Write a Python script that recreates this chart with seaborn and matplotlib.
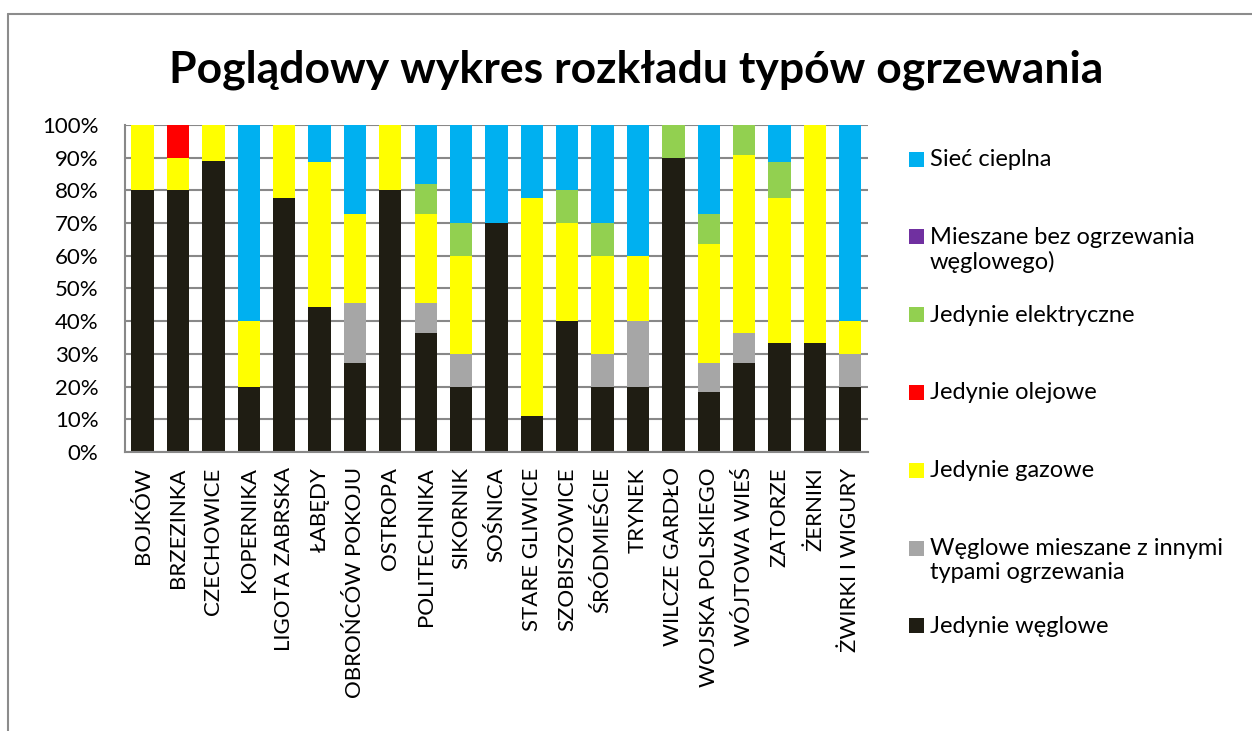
import numpy as np
import pandas as pd
import matplotlib
matplotlib.use("Agg")
import matplotlib.pyplot as plt
from matplotlib.patches import Rectangle
from matplotlib.lines import Line2D
import seaborn as sns

# District names (x axis)
districts = [
    "BOJKÓW", "BRZEZINKA", "CZECHOWICE", "KOPERNIKA", "LIGOTA ZABRSKA",
    "ŁABĘDY", "OBROŃCÓW POKOJU", "OSTROPA", "POLITECHNIKA", "SIKORNIK",
    "SOŚNICA", "STARE GLIWICE", "SZOBISZOWICE", "ŚRÓDMIEŚCIE", "TRYNEK",
    "WILCZE GARDŁO", "WOJSKA POLSKIEGO", "WÓJTOWA WIEŚ", "ZATORZE",
    "ŻERNIKI", "ŻWIRKI I WIGURY",
]

# Share of each heating type per district, in percent (bottom to top of stack)
jedynie_weglowe = [80, 80, 88.9, 20, 77.8, 44.4, 27.3, 80, 36.4, 20,
                   70, 11.1, 40, 20, 20, 90, 18.2, 27.3, 33.3, 33.3, 20]
weglowe_mieszane = [0, 0, 0, 0, 0, 0, 18.2, 0, 9.1, 10,
                    0, 0, 0, 10, 20, 0, 9.1, 9.1, 0, 0, 10]
jedynie_gazowe = [20, 10, 11.1, 20, 22.2, 44.4, 27.3, 20, 27.3, 30,
                  0, 66.7, 30, 30, 20, 0, 36.4, 54.5, 44.4, 66.7, 10]
jedynie_olejowe = [0, 10, 0, 0, 0, 0, 0, 0, 0, 0,
                   0, 0, 0, 0, 0, 0, 0, 0, 0, 0, 0]
jedynie_elektryczne = [0, 0, 0, 0, 0, 0, 0, 0, 9.1, 10,
                       0, 0, 10, 10, 0, 10, 9.1, 9.1, 11.1, 0, 0]
mieszane_bez_weglowego = [0] * 21
siec_cieplna = [0, 0, 0, 60, 0, 11.2, 27.2, 0, 18.1, 30,
                30, 22.2, 20, 30, 40, 0, 27.2, 0, 11.2, 0, 60]

series_labels = [
    "Jedynie węglowe",
    "Węglowe mieszane z innymi\ntypami ogrzewania",
    "Jedynie gazowe",
    "Jedynie olejowe",
    "Jedynie elektryczne",
    "Mieszane bez ogrzewania\nwęglowego)",
    "Sieć cieplna",
]
series_values = [jedynie_weglowe, weglowe_mieszane, jedynie_gazowe,
                 jedynie_olejowe, jedynie_elektryczne,
                 mieszane_bez_weglowego, siec_cieplna]
series_colors = ["#1F1D13", "#A6A6A6", "#FFFF00", "#FF0000",
                 "#92D050", "#7030A0", "#00B0F0"]

sns.set_theme(style="white")
plt.rcParams["font.family"] = ["Lato", "DejaVu Sans"]
plt.rcParams["text.color"] = "black"

W, H = 1252, 731
fig = plt.figure(figsize=(W / 100, H / 100), dpi=100)
ax = fig.add_axes([0.0998, 0.3817, 0.5935, 0.4473])

grid_color = "#888888"
ax.set_axisbelow(True)
ax.yaxis.grid(True, color=grid_color, linewidth=1.5)

bottom = np.zeros(len(districts))
for label, vals, color in zip(series_labels, series_values, series_colors):
    vals = np.asarray(vals, dtype=float)
    sns.barplot(x=districts, y=vals, bottom=bottom, color=color,
                width=0.63, errorbar=None, linewidth=0, ax=ax,
                saturation=1)
    bottom = bottom + vals

ax.set_ylim(0, 100)
ax.set_xlim(-0.5, len(districts) - 0.5)
ax.set_yticks(np.arange(0, 101, 10))
ax.set_yticklabels([f"{v}%" for v in range(0, 101, 10)])
ax.tick_params(axis="y", length=0, pad=19, labelsize=16, labelcolor="black")
ax.tick_params(axis="x", length=0, pad=11, labelsize=16, labelcolor="black",
               rotation=90)
ax.set_xlabel("")
ax.set_ylabel("")
for side in ["top", "right"]:
    ax.spines[side].set_visible(False)
for side in ["left", "bottom"]:
    ax.spines[side].set_color(grid_color)
    ax.spines[side].set_linewidth(1.5)

fig.suptitle("Poglądowy wykres rozkładu typów ogrzewania", x=0.508, y=0.905,
             fontsize=32, fontweight="bold", va="center", color="black")

# Legend: evenly spaced swatches, top of stack first; each label's first
# line sits on its swatch.
sw = 15            # swatch size, px
x_sw = 909         # swatch left edge, px
y_first = 159      # centre of first swatch, px from top
step = 77.8        # distance between swatches, px
for i, (lab, col) in enumerate(zip(series_labels[::-1], series_colors[::-1])):
    yc = y_first + i * step
    fig.add_artist(Rectangle((x_sw / W, 1 - (yc + sw / 2) / H), sw / W, sw / H,
                             transform=fig.transFigure, facecolor=col,
                             edgecolor="none"))
    fig.text((x_sw + sw + 6) / W, 1 - (yc - 10) / H, lab, fontsize=17,
             va="top", ha="left", color="black", linespacing=1.15)

# Chart border
border = "#8C8C8C"
fig.add_artist(Line2D([8 / W, 8 / W], [0, 1 - 14 / H],
                      color=border, linewidth=1.5))
fig.add_artist(Line2D([8 / W, 1], [1 - 14 / H, 1 - 14 / H],
                      color=border, linewidth=1.5))

fig.savefig("out.png", dpi=100, facecolor="white")
